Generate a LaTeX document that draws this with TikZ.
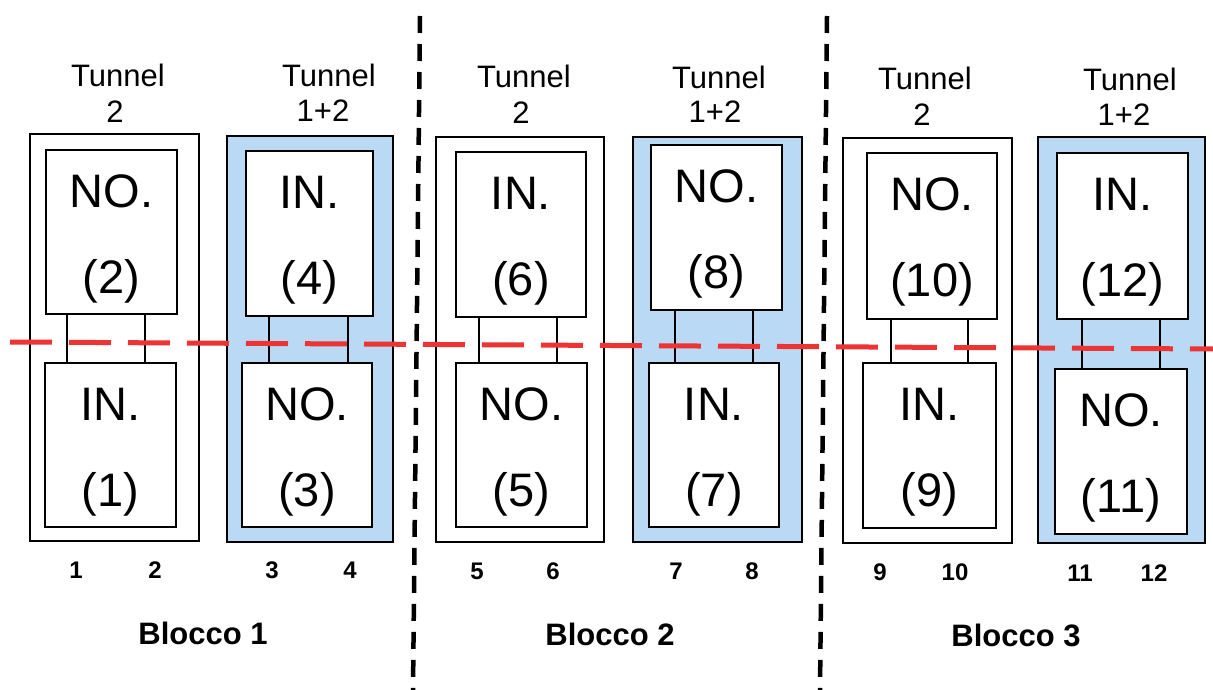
\documentclass[tikz,border=0pt]{standalone}
\usepackage{fontspec}
\setmainfont{Liberation Sans}
\usetikzlibrary{calc}
\definecolor{tunnelblue}{RGB}{186,217,245}
\definecolor{cutred}{RGB}{236,52,52}
\begin{document}
\begin{tikzpicture}[x=1pt, y=-1pt,
  frame/.style={draw=black, line width=2.2pt, inner sep=0pt, outer sep=0pt},
  plainframe/.style={frame, fill=white},
  shadedframe/.style={frame, fill=tunnelblue},
  cell/.style={frame, fill=white},
  link/.style={line width=2.2pt},
  celltext/.style={font=\fontsize{47}{47}\selectfont, inner sep=0pt, anchor=base},
  head/.style={font=\fontsize{31}{31}\selectfont, inner sep=0pt, anchor=base},
  idx/.style={font=\bfseries\fontsize{24}{24}\selectfont, inner sep=0pt, anchor=base},
  blocklabel/.style={font=\bfseries\fontsize{31}{31}\selectfont, inner sep=0pt, anchor=base},
  divider/.style={line width=4.5pt, dash pattern=on 17pt off 11pt},
  cutline/.style={draw=cutred, line width=5pt, dash pattern=on 42pt off 17pt}]
\useasboundingbox (0,0) rectangle (1213,690);
\fill[white] (0,0) rectangle (1213,690);

% ---- Blocco 1 ----
\node[plainframe, minimum width=169, minimum height=407] (o1) at (114.5,337.5) {};
\node[cell, minimum width=131, minimum height=164] (t1) at (111.5,232) {};
\node[cell, minimum width=131, minimum height=164] (b1) at (110.5,445) {};
\draw[link] (t1.south -| 67,0) -- (b1.north -| 67,0);
\draw[link] (t1.south -| 145,0) -- (b1.north -| 145,0);

\node[shadedframe, minimum width=166, minimum height=406] (o2) at (310,339) {};
\node[cell, minimum width=127, minimum height=165] (t2) at (309.5,233.5) {};
\node[cell, minimum width=130, minimum height=164] (b2) at (307,445) {};
\draw[link] (t2.south -| 269,0) -- (b2.north -| 269,0);
\draw[link] (t2.south -| 348,0) -- (b2.north -| 348,0);

% ---- Blocco 2 ----
\node[plainframe, minimum width=168, minimum height=405] (o3) at (520,339.5) {};
\node[cell, minimum width=130, minimum height=165] (t3) at (521,234.5) {};
\node[cell, minimum width=131, minimum height=164] (b3) at (521.5,445) {};
\draw[link] (t3.south -| 479,0) -- (b3.north -| 479,0);
\draw[link] (t3.south -| 557,0) -- (b3.north -| 557,0);

\node[shadedframe, minimum width=169, minimum height=405] (o4) at (717.5,339.5) {};
\node[cell, minimum width=131, minimum height=165] (t4) at (716.5,227.5) {};
\node[cell, minimum width=130, minimum height=164] (b4) at (714,445) {};
\draw[link] (t4.south -| 675,0) -- (b4.north -| 675,0);
\draw[link] (t4.south -| 753,0) -- (b4.north -| 753,0);

% ---- Blocco 3 ----
\node[plainframe, minimum width=169, minimum height=405] (o5) at (927.5,340.5) {};
\node[cell, minimum width=130, minimum height=166] (t5) at (932,236) {};
\node[cell, minimum width=133, minimum height=165] (b5) at (929.5,445.5) {};
\draw[link] (t5.south -| 891,0) -- (b5.north -| 891,0);
\draw[link] (t5.south -| 968,0) -- (b5.north -| 968,0);

\node[shadedframe, minimum width=167, minimum height=406] (o6) at (1121.5,340) {};
\node[cell, minimum width=131, minimum height=166] (t6) at (1122.5,236) {};
\node[cell, minimum width=132, minimum height=165] (b6) at (1121,451.5) {};
\draw[link] (t6.south -| 1082,0) -- (b6.north -| 1082,0);
\draw[link] (t6.south -| 1160,0) -- (b6.north -| 1160,0);

% ---- texts inside the cells ----
\foreach \c/\top/\topn/\bot/\botn in {1/NO./2/IN./1, 2/IN./4/NO./3, 3/IN./6/NO./5,
                                        4/NO./8/IN./7, 5/NO./10/IN./9, 6/IN./12/NO./11} {
  \node[celltext] (tw\c) at ($(t\c.north)+(0,57)$) {\top};
  \node[celltext] (tn\c) at ($(t\c.north)+(0,143)$) {(\topn)};
  \node[celltext] (bw\c) at ($(b\c.north)+(0,57)$) {\bot};
  \node[celltext] (bn\c) at ($(b\c.north)+(0,143)$) {(\botn)};
}

% ---- headings ----
\node[head] (h1) at (118,87) {Tunnel};   \node[head] (k1) at (115,123) {2};
\node[head] (h2) at (329,87) {Tunnel};   \node[head] (k2) at (323,122) {1+2};
\node[head] (h3) at (524,88) {Tunnel};   \node[head] (k3) at (521,124) {2};
\node[head] (h4) at (719,89) {Tunnel};   \node[head] (k4) at (715,123) {1+2};
\node[head] (h5) at (925,90) {Tunnel};   \node[head] (k5) at (922,126) {2};
\node[head] (h6) at (1130,91) {Tunnel};  \node[head] (k6) at (1124,126) {1+2};

% ---- column indices ----
\foreach \n/\x/\y in {1/76/578, 2/155/578, 3/272/578, 4/350/578, 5/477/579, 6/553/579,
                      7/676/579, 8/752/579, 9/880/580, 10/955/580, 11/1080/581, 12/1154/581}
  \node[idx] (n\n) at (\x,\y) {\n};

% ---- block names ----
\node[blocklabel] (bl1) at (203,644) {Blocco 1};
\node[blocklabel] (bl2) at (610,645) {Blocco 2};
\node[blocklabel] (bl3) at (1016,646) {Blocco 3};

% ---- block separators ----
\coordinate (s1a) at (420,16);  \coordinate (s1b) at (413,690);
\coordinate (s2a) at (827,16);  \coordinate (s2b) at (820,690);
\draw[divider] (s1a) -- (s1b);
\draw[divider] (s2a) -- (s2b);

% ---- cut line ----
\coordinate (ca) at (10,342);  \coordinate (cb) at (1213,349);
\draw[cutline] (ca) -- (cb);
\end{tikzpicture}
\end{document}
